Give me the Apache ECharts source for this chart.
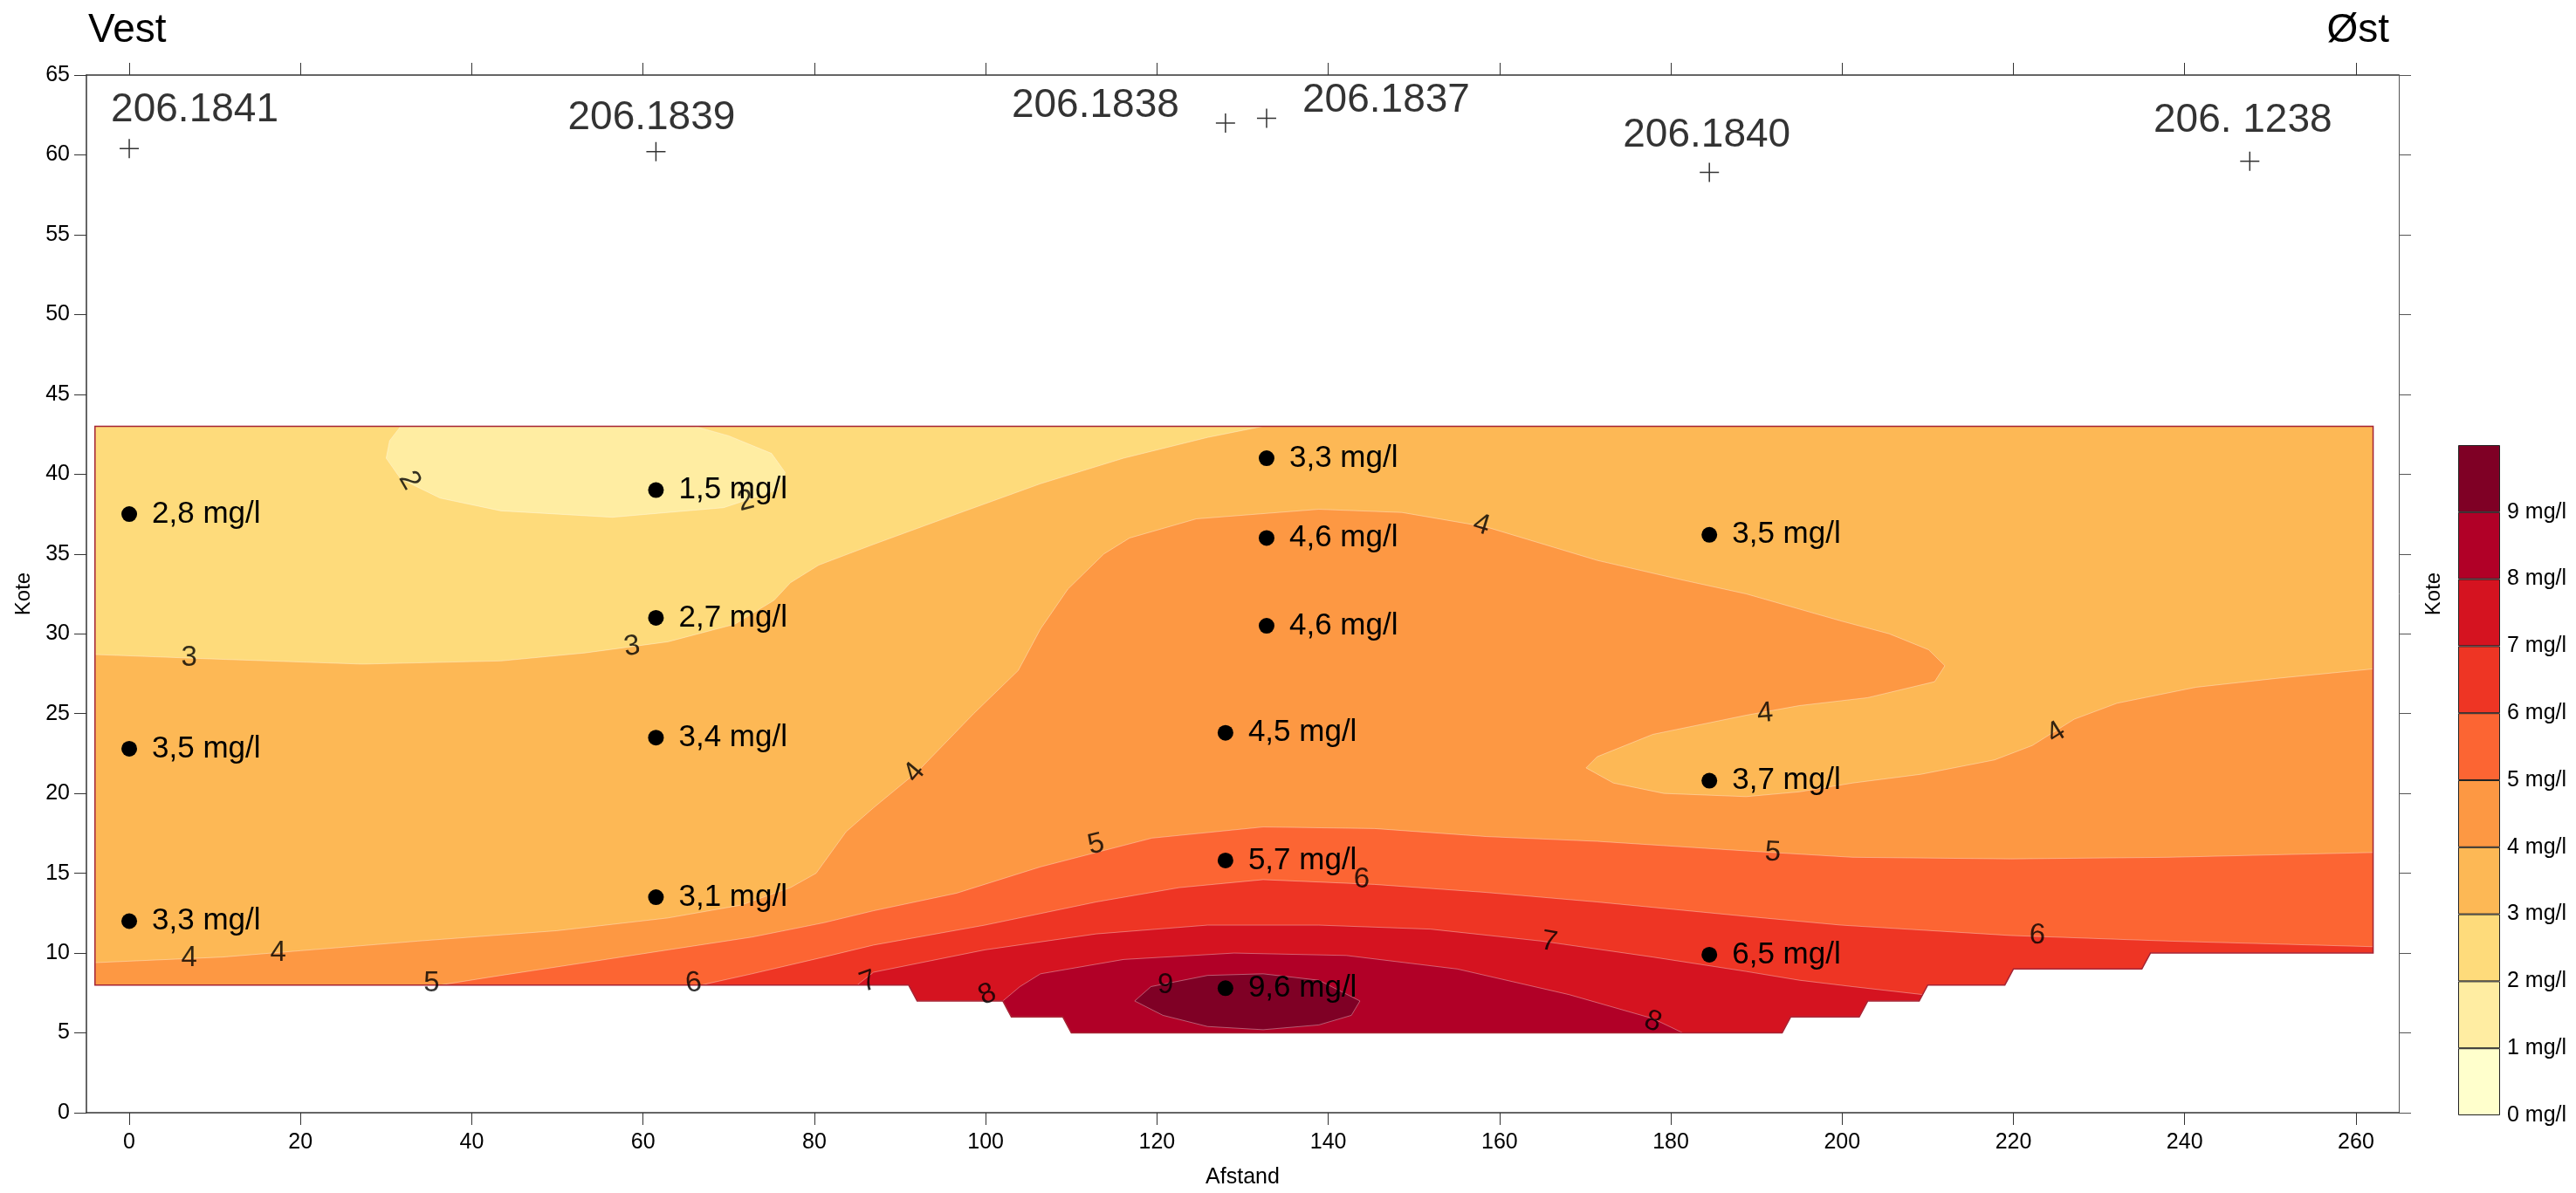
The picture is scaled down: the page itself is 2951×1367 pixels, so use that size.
<!DOCTYPE html>
<html>
<head>
<meta charset="utf-8">
<script src="https://cdn.jsdelivr.net/npm/echarts@6/dist/echarts.min.js"></script>
<style>
  html, body { margin: 0; padding: 0; background: #fff; }
  #chart { width: 2951px; height: 1367px; }
</style>
</head>
<body>
<div id="chart"></div>
<script>
// ---- data ----

// colour classes 0..10 mg/l
var levels = [0, 1, 2, 3, 4, 5, 6, 7, 8, 9, 10];
var bandColors = ['#ffffcc', '#ffeda2', '#fedb7b', '#fdb855', '#fd9843',
                  '#fc6533', '#ee3524', '#d51320', '#b10027', '#7f0025'];

// axis ticks
var xTicks = [0, 20, 40, 60, 80, 100, 120, 140, 160, 180, 200, 220, 240, 260];

// boreholes at the top
var wellNames = ['206.1841', '206.1839', '206.1838', '206.1837', '206.1840', '206. 1238'];
var wellX = [0, 61.5, 128, 132.8, 184.5, 247.6];
var wellY = [60.4, 60.2, 62.0, 62.3, 58.9, 59.6];

// sample points (mg/l)
var sampleX = [0, 0, 0, 61.5, 61.5, 61.5, 61.5, 132.8, 132.8, 132.8, 128, 128, 128, 184.5, 184.5, 184.5];
var sampleY = [37.5, 22.8, 12.0, 39.0, 31.0, 23.5, 13.5, 41.0, 36.0, 30.5, 23.8, 15.8, 7.8, 36.2, 20.8, 9.9];
var sampleConc = [2.8, 3.5, 3.3, 1.5, 2.7, 3.4, 3.1, 3.3, 4.6, 4.6, 4.5, 5.7, 9.6, 3.5, 3.7, 6.5];

// gridded area (outline, data coordinates)
var domain = [[-4, 43], [262, 43], [262, 10], [236, 10], [235, 9], [220, 9], [219, 8], [210, 8],
  [209, 7], [203, 7], [202, 6], [194, 6], [193, 5], [110, 5], [109, 6], [103, 6], [102, 7],
  [92, 7], [91, 8], [-4, 8]];

// contour areas
var below3 = [[-4, 43], [132.4, 43], [125.9, 42.3], [116.1, 41.0], [106.4, 39.4], [96.6, 37.5],
  [86.9, 35.6], [80.5, 34.3], [77.2, 33.2], [75.3, 32.1], [70.7, 30.6], [62.9, 29.5], [53.2, 28.8],
  [43.4, 28.3], [27.2, 28.1], [10.9, 28.4], [-4, 28.7]];

var below2 = [[31.7, 43], [30.4, 42.1], [30.0, 41.0], [31.7, 39.7], [36.3, 38.5], [43.4, 37.7],
  [56.4, 37.3], [69.4, 37.9], [75.6, 39.0], [76.6, 40.1], [75.0, 41.3], [70.0, 42.4], [66.0, 43]];

var above4 = [[-4, 8], [-4, 9.4], [10.9, 9.75], [20.0, 10.15], [33.7, 10.75], [49.9, 11.4],
  [62.9, 12.2], [71.4, 13.0], [77.2, 14.1], [80.2, 15.0], [83.7, 17.6], [86.9, 19.1], [92.1, 21.4],
  [98.6, 25.0], [103.8, 27.7], [106.4, 30.3], [109.6, 32.8], [113.8, 35.0], [116.8, 36.0],
  [124.6, 37.2], [138.9, 37.8], [148.6, 37.6], [158.4, 36.7], [171.4, 34.6], [181.1, 33.4],
  [188.8, 32.5], [199.9, 30.8], [205.5, 30.0], [210.1, 29.0], [212.0, 28.0], [210.8, 27.0],
  [203.0, 26.0], [195.0, 25.5], [188.8, 24.9], [177.9, 23.7], [171.4, 22.3], [170.1, 21.6],
  [173.3, 20.65], [179.2, 20.0], [188.8, 19.8], [195.0, 20.1], [201.2, 20.65], [209.2, 21.2],
  [217.8, 22.1], [222.2, 23.0], [227.1, 24.65], [232.1, 25.65], [241.3, 26.65], [250.6, 27.2],
  [262, 27.8], [262, 10], [236, 10], [235, 9], [220, 9], [219, 8], [210, 8], [209, 7], [203, 7],
  [202, 6], [194, 6], [193, 5], [110, 5], [109, 6], [103, 6], [102, 7], [92, 7], [91, 8]];

var above5 = [[36.3, 8], [43.4, 8.6], [53.2, 9.4], [62.9, 10.2], [72.7, 11.0], [81.1, 11.9],
  [86.9, 12.65], [96.6, 13.75], [106.4, 15.4], [112.9, 16.3], [119.4, 17.2], [132.4, 17.9],
  [145.4, 17.8], [158.4, 17.3], [171.4, 17.0], [188.8, 16.4], [201.2, 16.0], [219.7, 15.9],
  [238.2, 16.0], [262, 16.3], [262, 10], [236, 10], [235, 9], [220, 9], [219, 8], [210, 8],
  [209, 7], [203, 7], [202, 6], [194, 6], [193, 5], [110, 5], [109, 6], [103, 6], [102, 7],
  [92, 7], [91, 8]];

var above6 = [[66.8, 8], [72.7, 8.7], [81.1, 9.75], [86.9, 10.5], [99.9, 11.75], [112.9, 13.2],
  [122.6, 14.1], [132.4, 14.6], [145.4, 14.3], [158.4, 13.8], [171.4, 13.2], [188.8, 12.3],
  [199.9, 11.75], [219.7, 11.1], [238.2, 10.75], [262, 10.4], [262, 10], [236, 10], [235, 9],
  [220, 9], [219, 8], [210, 8], [209, 7], [203, 7], [202, 6], [194, 6], [193, 5], [110, 5],
  [109, 6], [103, 6], [102, 7], [92, 7], [91, 8]];

var above7 = [[85, 8], [86.9, 8.8], [99.9, 10.2], [112.9, 11.2], [125.9, 11.75], [138.9, 11.75],
  [151.9, 11.5], [164.9, 10.75], [177.9, 9.75], [188.8, 8.85], [195.0, 8.3], [201.2, 7.9],
  [209.4, 7.4], [209, 7], [203, 7], [202, 6], [194, 6], [193, 5], [110, 5], [109, 6], [103, 6],
  [102, 7], [92, 7], [91, 8]];

var above8 = [[102, 7], [104, 7.9], [106.4, 8.7], [116.1, 9.6], [129.0, 10.0], [142.1, 9.85],
  [155.1, 9.0], [168.1, 7.4], [177.9, 5.9], [181.4, 5], [110, 5], [109, 6], [103, 6]];

var above9 = [[117.4, 7.0], [119.3, 7.9], [125.9, 8.6], [132.4, 8.7], [138.9, 8.3], [143.7, 7.0],
  [142.7, 6.1], [138.9, 5.5], [132.4, 5.2], [125.9, 5.4], [120.7, 6.1]];

// contour labels
var clText = ['2', '2', '3', '3', '4', '4', '4', '4', '4', '4', '5', '5', '5', '6', '6', '6', '7', '7', '8', '8', '9'];
var clX = [32.7, 72.0, 7.0, 58.7, 7.0, 17.4, 91.7, 157.9, 191.0, 225.0, 35.3, 112.9, 191.9, 65.9, 143.9, 222.8, 86.3, 165.8, 100.2, 177.9, 121.0];
var clY = [39.6, 38.3, 28.5, 29.2, 9.7, 10.0, 21.3, 36.8, 25.0, 23.8, 8.1, 16.8, 16.3, 8.1, 14.6, 11.1, 8.2, 10.7, 7.4, 5.7, 8.0];

// ---- styling ----
var FONT = '"Liberation Sans", Arial, Helvetica, sans-serif';
var clRotate = [-60, 15, 0, 8, 0, 0, 50, -17, 5, 32, 0, 14, -3, 8, 0, -3, 20, -10, 25, -20, 0];
var wellLabelOffset = [[75, -44], [-5, -38], [-149, -20], [137, -20], [-3, -42], [-8, -46]];

var chart = echarts.init(document.getElementById('chart'));

function areaSeries(points, color, z) {
  return {
    type: 'custom',
    coordinateSystem: 'cartesian2d',
    xAxisIndex: 0,
    yAxisIndex: 0,
    silent: true,
    clip: true,
    z: z,
    data: points,
    encode: { x: 0, y: 1 },
    renderItem: function (params, api) {
      if (params.dataIndex !== 0) return null;
      var pts = points.map(function (p) { return api.coord(p); });
      return {
        type: 'polygon',
        shape: { points: pts },
        style: { fill: color, stroke: 'rgba(255,255,255,0.35)', lineWidth: 1 }
      };
    }
  };
}

var series = [
  areaSeries(domain, bandColors[3], 1),
  areaSeries(below3, bandColors[2], 2),
  areaSeries(below2, bandColors[1], 3),
  areaSeries(above4, bandColors[4], 4),
  areaSeries(above5, bandColors[5], 5),
  areaSeries(above6, bandColors[6], 6),
  areaSeries(above7, bandColors[7], 7),
  areaSeries(above8, bandColors[8], 8),
  areaSeries(above9, bandColors[9], 9)
];

// outline of the gridded area
series.push({
  type: 'custom',
  coordinateSystem: 'cartesian2d',
  silent: true,
  z: 10,
  data: domain,
  encode: { x: 0, y: 1 },
  renderItem: function (params, api) {
    if (params.dataIndex !== 0) return null;
    var pts = domain.map(function (p) { return api.coord(p); });
    return {
      type: 'polygon',
      shape: { points: pts },
      style: { fill: 'none', stroke: '#a52232', lineWidth: 1.5 }
    };
  }
});

// contour labels
series.push({
  type: 'scatter',
  z: 11,
  silent: true,
  symbolSize: 0,
  data: clText.map(function (t, i) {
    return {
      value: [clX[i], clY[i]],
      name: t,
      label: { rotate: clRotate[i] }
    };
  }),
  label: {
    show: true,
    position: 'inside',
    formatter: '{b}',
    color: '#000',
    fontSize: 33,
    fontFamily: FONT
  }
});

// sample points
series.push({
  type: 'scatter',
  z: 12,
  silent: true,
  symbol: 'circle',
  symbolSize: 18,
  itemStyle: { color: '#000', opacity: 1 },
  data: sampleX.map(function (x, i) { return [x, sampleY[i], sampleConc[i]]; }),
  label: {
    show: true,
    position: 'right',
    distance: 17,
    color: '#000',
    fontSize: 35,
    fontFamily: FONT,
    formatter: function (p) {
      return p.value[2].toFixed(1).replace('.', ',') + ' mg/l';
    }
  }
});

// boreholes
series.push({
  type: 'scatter',
  z: 12,
  silent: true,
  symbol: 'path://M0,10L20,10M10,0L10,20',
  symbolSize: 22,
  itemStyle: { color: 'none', borderColor: '#000', borderWidth: 1.5 },
  data: wellX.map(function (x, i) {
    return {
      value: [x, wellY[i]],
      name: wellNames[i],
      label: { offset: wellLabelOffset[i] }
    };
  }),
  label: {
    show: true,
    position: 'inside',
    formatter: '{b}',
    color: '#000',
    fontSize: 46,
    fontFamily: FONT
  }
});

// colour bar: one stacked block per class
for (var i = 0; i < bandColors.length; i++) {
  series.push({
    type: 'bar',
    xAxisIndex: 2,
    yAxisIndex: 2,
    stack: 'bar',
    silent: true,
    barWidth: '100%',
    data: [levels[i + 1] - levels[i]],
    itemStyle: { color: bandColors[i], borderColor: '#222', borderWidth: 1 }
  });
}

var axisLine = { show: true, onZero: false, lineStyle: { color: '#333', width: 1.5 } };

var option = {
  backgroundColor: '#fff',
  animation: false,
  textStyle: { fontFamily: FONT },
  title: [
    { text: 'Vest', left: 101, top: 12, padding: 0,
      textStyle: { fontSize: 46, fontWeight: 'normal', color: '#000', fontFamily: FONT } },
    { text: 'Øst', right: 214, top: 12, padding: 0,
      textStyle: { fontSize: 46, fontWeight: 'normal', color: '#000', fontFamily: FONT } }
  ],
  grid: [
    { left: 99, right: 203, top: 86, bottom: 88 },
    { left: 2816, top: 510, width: 48, height: 768 }
  ],
  xAxis: [
    {
      gridIndex: 0, type: 'value', position: 'bottom', min: -5, max: 265,
      name: 'Afstand', nameLocation: 'middle', nameGap: 62,
      nameTextStyle: { fontSize: 25, color: '#000', fontFamily: FONT },
      axisLine: axisLine,
      axisTick: { show: true, inside: false, length: 14, customValues: xTicks, lineStyle: { color: '#333' } },
      axisLabel: { show: true, customValues: xTicks, margin: 22, fontSize: 25, color: '#000', fontFamily: FONT },
      splitLine: { show: false }
    },
    {
      gridIndex: 0, type: 'value', position: 'top', min: -5, max: 265,
      axisLine: axisLine,
      axisTick: { show: true, inside: false, length: 14, customValues: xTicks, lineStyle: { color: '#333' } },
      axisLabel: { show: false },
      splitLine: { show: false }
    },
    {
      gridIndex: 1, type: 'category', data: ['bar'], show: false
    }
  ],
  yAxis: [
    {
      gridIndex: 0, type: 'value', position: 'left', min: 0, max: 65, interval: 5,
      name: 'Kote', nameLocation: 'middle', nameGap: 60, nameRotate: 90,
      nameTextStyle: { fontSize: 24, color: '#000', fontFamily: FONT },
      axisLine: axisLine,
      axisTick: { show: true, inside: false, length: 14, lineStyle: { color: '#333' } },
      axisLabel: { show: true, margin: 19, fontSize: 25, color: '#000', fontFamily: FONT },
      splitLine: { show: false }
    },
    {
      gridIndex: 0, type: 'value', position: 'right', min: 0, max: 65, interval: 5,
      name: 'Kote', nameLocation: 'middle', nameGap: 28, nameRotate: 90,
      nameTextStyle: { fontSize: 24, color: '#000', fontFamily: FONT },
      axisLine: { show: true, onZero: false, lineStyle: { color: '#555', width: 1 } },
      axisTick: { show: true, inside: false, length: 14, lineStyle: { color: '#555' } },
      axisLabel: { show: false },
      splitLine: { show: false }
    },
    {
      gridIndex: 1, type: 'value', position: 'right', min: 0, max: 10, interval: 1,
      axisLine: { show: false },
      axisTick: { show: false },
      splitLine: { show: false },
      axisLabel: {
        show: true, margin: 8, fontSize: 25, color: '#000', fontFamily: FONT,
        formatter: function (v) { return v === 10 ? '' : v + ' mg/l'; }
      }
    }
  ],
  series: series
};

chart.setOption(option);
</script>
</body>
</html>
